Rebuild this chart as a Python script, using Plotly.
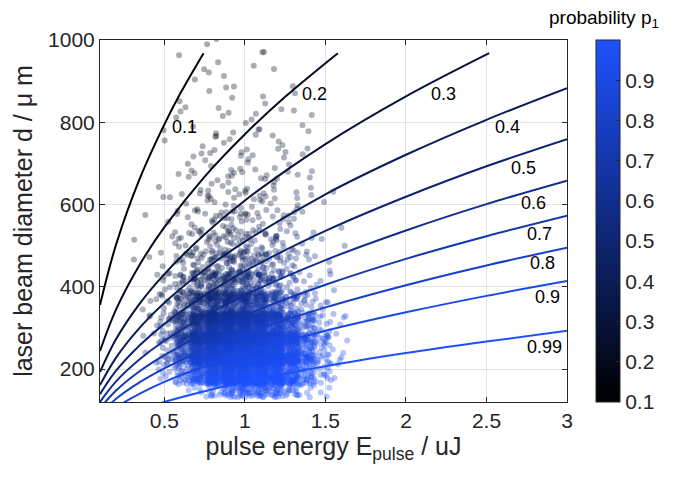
import numpy as np
import plotly.graph_objects as go

# ---------------- data ----------------
levels = [0.1, 0.2, 0.3, 0.4, 0.5, 0.6, 0.7, 0.8, 0.9, 0.99]
level_labels = ["0.1", "0.2", "0.3", "0.4", "0.5", "0.6", "0.7", "0.8", "0.9", "0.99"]

# contour lines: beam diameter d (um) at pulse energy E (uJ)
E_line = [0.1, 0.2, 0.35, 0.5, 0.75, 1.0, 1.5, 2.0, 2.5, 3.0]
c01_E = [0.1, 0.2, 0.35, 0.5, 0.6, 0.743]
c01_d = [356, 503, 666, 795, 871, 968]
c02_E = [0.1, 0.2, 0.35, 0.5, 0.75, 1.0, 1.25, 1.577]
c02_d = [244, 345, 456, 545, 668, 771, 862, 968]
c03_E = [0.1, 0.2, 0.35, 0.5, 0.75, 1.0, 1.5, 2.0, 2.517]
c03_d = [193, 273, 361, 431, 528, 610, 747, 863, 968]
c04_d = [161, 228, 302, 361, 442, 510, 625, 721, 806, 883]
c05_d = [139, 196, 259, 310, 379, 438, 536, 619, 693, 759]
c06_d = [120, 170, 225, 269, 329, 380, 465, 537, 601, 658]
c07_d = [105, 148, 196, 234, 287, 331, 405, 468, 523, 573]
c08_d = [90, 128, 169, 202, 248, 286, 350, 404, 452, 495]
c09_d = [76, 107, 141, 169, 207, 239, 293, 338, 378, 414]
c099_d = [53, 76, 100, 120, 146, 169, 207, 239, 267, 293]

contour_E = [c01_E, c02_E, c03_E, E_line, E_line, E_line, E_line, E_line, E_line, E_line]
contour_d = [c01_d, c02_d, c03_d, c04_d, c05_d, c06_d, c07_d, c08_d, c09_d, c099_d]

# diameter of each contour at E = 1 uJ (used to colour the samples)
level_d_at_E1 = [1125, 771, 610, 510, 438, 380, 331, 286, 239, 169]

# contour label positions (E, d)
label_E = [0.625, 1.43, 2.23, 2.63, 2.73, 2.79, 2.83, 2.85, 2.88, 2.86]
label_d = [788, 868, 868, 788, 688, 603, 528, 458, 375, 253]

# sample cloud: counts of shots per (E, d) cell
E_edges = [0.2, 0.3, 0.4, 0.5, 0.6, 0.7, 0.8, 0.9, 1.0, 1.1, 1.2, 1.3, 1.4, 1.5, 1.6, 1.7]
d_edges = [140, 175, 225, 275, 325, 375, 425, 475, 525, 575, 625, 675, 725, 775, 825, 875, 925, 975, 1000]
cell_counts = [
    [0, 0, 0, 0, 1, 10, 30, 50, 55, 50, 35, 15, 5, 1, 0],
    [0, 0, 2, 15, 55, 120, 180, 210, 210, 180, 120, 55, 25, 5, 0],
    [0, 0, 4, 25, 80, 170, 240, 270, 270, 230, 150, 70, 30, 6, 0],
    [0, 0, 4, 25, 70, 130, 180, 200, 190, 155, 95, 45, 22, 5, 0],
    [0, 0, 3, 15, 40, 70, 90, 95, 85, 65, 38, 17, 9, 2, 0],
    [0, 0, 2, 10, 25, 40, 48, 48, 42, 30, 17, 7, 3, 1, 0],
    [0, 1, 1, 5, 12, 20, 25, 27, 24, 18, 11, 5, 3, 1, 0],
    [1, 0, 1, 3, 7, 11, 14, 15, 14, 11, 8, 5, 2, 1, 0],
    [0, 0, 1, 2, 5, 7, 9, 10, 9, 7, 5, 3, 1, 1, 0],
    [0, 0, 0, 2, 3, 5, 6, 7, 6, 5, 4, 3, 1, 1, 0],
    [0, 0, 1, 1, 2, 3, 4, 5, 4, 4, 3, 2, 1, 0, 0],
    [0, 0, 0, 1, 2, 2, 3, 3, 3, 3, 2, 2, 1, 0, 0],
    [0, 0, 1, 1, 1, 2, 2, 3, 2, 2, 2, 1, 1, 0, 0],
    [0, 0, 0, 1, 1, 2, 2, 2, 2, 1, 1, 1, 1, 0, 0],
    [0, 0, 0, 1, 1, 1, 2, 1, 1, 1, 1, 1, 0, 0, 0],
    [0, 0, 0, 0, 1, 1, 1, 1, 1, 1, 1, 0, 0, 0, 0],
    [0, 0, 0, 0, 1, 1, 1, 0, 1, 0, 1, 0, 0, 0, 0],
    [0, 0, 0, 0, 0, 1, 1, 0, 1, 0, 0, 0, 0, 0, 0],
]

x_ticks = [0.5, 1, 1.5, 2, 2.5, 3]
x_tick_text = ["0.5", "1", "1.5", "2", "2.5", "3"]
y_ticks = [200, 400, 600, 800, 1000]
cb_ticks = [0.1, 0.2, 0.3, 0.4, 0.5, 0.6, 0.7, 0.8, 0.9]


# ---------------- build samples (Halton placement, spread a little past each cell) ----------------
def halton(i, base):
    f, r = 1.0, 0.0
    while i > 0:
        f /= base
        r += f * (i % base)
        i //= base
    return r


spread_E, spread_d = 0.35, 0.25
pts_E, pts_d = [], []
idx = 0
for i, row in enumerate(cell_counts):
    d0, d1 = d_edges[i], d_edges[i + 1]
    hd = d1 - d0
    for j, n in enumerate(row):
        e0, e1 = E_edges[j], E_edges[j + 1]
        we = e1 - e0
        for _ in range(n):
            idx += 1
            u = halton(idx, 2)
            v = halton(idx, 3)
            pts_E.append(e0 - spread_E * we + u * (1 + 2 * spread_E) * we)
            pts_d.append(d0 - spread_d * hd + v * (1 + 2 * spread_d) * hd)
pts_E = np.array(pts_E)
pts_d = np.array(pts_d)
scale = pts_d / np.sqrt(pts_E)
p_pts = np.interp(scale, level_d_at_E1[::-1], levels[::-1])

top_rgb = (30, 82, 255)
colorscale = [[0.0, "rgb(0,0,0)"], [1.0, "rgb(%d,%d,%d)" % top_rgb]]


def level_color(p):
    f = (p - 0.1) / 0.9
    return "rgb(%d,%d,%d)" % tuple(int(round(f * c)) for c in top_rgb)


FONT = "Liberation Sans, Arial, Helvetica, sans-serif"
TXT = "#262626"

fig = go.Figure()
fig.add_trace(go.Scatter(
    x=pts_E, y=pts_d, mode="markers",
    marker=dict(size=6, color=p_pts, colorscale=colorscale, cmin=0.1, cmax=1.0,
                opacity=0.33, line=dict(width=0),
                showscale=True,
                colorbar=dict(
                    x=(596 - 100) / 467, xanchor="left", xpad=0, ypad=0,
                    y=0.5, yanchor="middle", len=1.0, lenmode="fraction",
                    thickness=24, thicknessmode="pixels",
                    outlinecolor=TXT, outlinewidth=1,
                    tickvals=cb_ticks, ticktext=[f"{t:.1f}" for t in cb_ticks],
                    ticks="inside", ticklen=4, tickcolor=TXT,
                    tickfont=dict(family=FONT, size=21, color=TXT),
                )),
    showlegend=False, hoverinfo="skip",
))

for p, Ex, dy in zip(levels, contour_E, contour_d):
    fig.add_trace(go.Scatter(
        x=Ex, y=dy, mode="lines",
        line=dict(color=level_color(p), width=2, shape="spline"),
        showlegend=False, hoverinfo="skip",
    ))

for t, ex, dy in zip(level_labels, label_E, label_d):
    fig.add_annotation(x=ex, y=dy, text=t, showarrow=False,
                       font=dict(family=FONT, size=18, color="black"),
                       xanchor="center", yanchor="middle")

fig.add_annotation(xref="paper", yref="paper", x=(604 - 100) / 467, y=1 + (40 - 19) / 362,
                   text="probability p<sub>1</sub>", showarrow=False,
                   font=dict(family=FONT, size=19, color="black"),
                   xanchor="center", yanchor="middle")

axis_common = dict(showline=True, mirror="ticks", linecolor=TXT, linewidth=1,
                   ticks="inside", ticklen=5, tickcolor=TXT,
                   showgrid=True, gridcolor="#e3e3e3", gridwidth=1, zeroline=False,
                   tickfont=dict(family=FONT, size=21, color=TXT))

# the page places the figure 8 px in from the top-left, so margins are offset by 8 px
fig.update_layout(
    width=696, height=483,
    margin=dict(l=92, r=137, t=32, b=89, autoexpand=False),
    paper_bgcolor="white", plot_bgcolor="white",
    xaxis=dict(range=[0.1, 3], tickvals=x_ticks, ticktext=x_tick_text,
               title=dict(text="pulse energy E<sub>pulse</sub> / uJ", standoff=4,
                          font=dict(family=FONT, size=25, color=TXT)),
               automargin=False, **axis_common),
    yaxis=dict(range=[120, 1000], tickvals=y_ticks,
               title=dict(text="laser beam diameter d / μ m", standoff=8,
                          font=dict(family=FONT, size=25, color=TXT)),
               automargin=False, **axis_common),
)

fig.write_html("out.html")
